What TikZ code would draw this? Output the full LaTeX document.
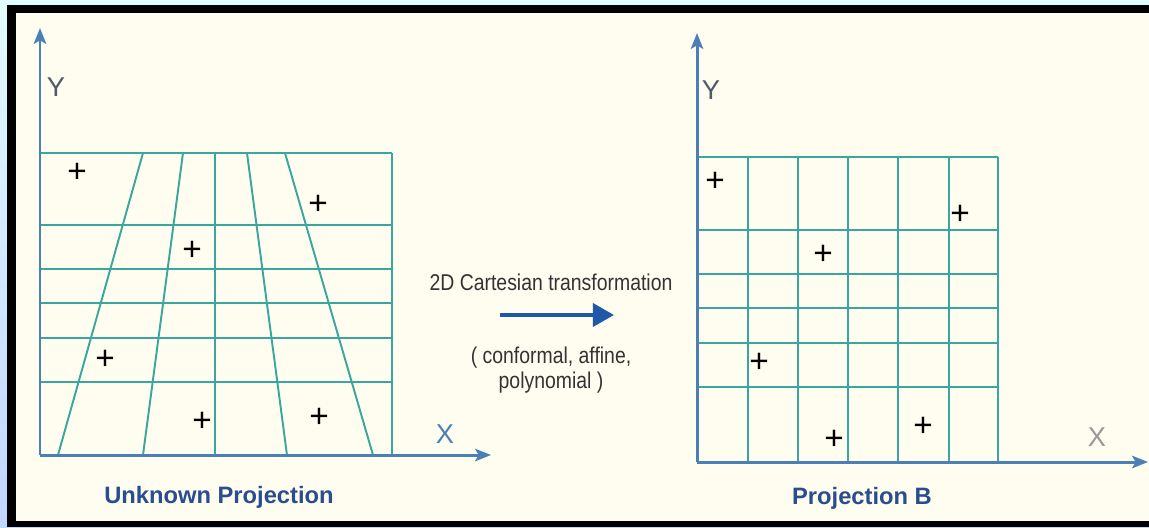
\documentclass[tikz,border=0pt]{standalone}
\usepackage{fontspec}
\setmainfont{Liberation Sans}
\newfontfamily\narrowfont[FakeStretch=0.85]{Liberation Sans}
\usetikzlibrary{arrows.meta}
\definecolor{cream}{HTML}{FFFCF0}
\definecolor{axblue}{HTML}{4A80B6}
\definecolor{gridteal}{HTML}{3AA79E}
\definecolor{ttlblue}{HTML}{2A4D8F}
\definecolor{arrblue}{HTML}{1F58A8}
\definecolor{lblgray}{HTML}{4E5A66}
\tikzset{
  >={Stealth[length=9pt,width=7pt,inset=2pt]},
  ax/.style={draw=axblue,line width=1.7pt,->},
  gl/.style={draw=gridteal,line width=1.1pt},
  pt/.style={inner sep=0pt,font=\fontsize{19}{19}\selectfont},
  lbl/.style={inner sep=0pt,font=\fontsize{15.5}{15.5}\selectfont,text=lblgray},
  ttl/.style={inner sep=0pt,font=\fontsize{13.5}{13.5}\selectfont\bfseries,text=ttlblue},
  capt/.style={inner sep=0pt,align=center,text=black!80,font=\narrowfont\fontsize{13}{14.2}\selectfont},
}
\begin{document}
\begin{tikzpicture}[x=0.2mm,y=-0.2mm]
\useasboundingbox (0,0) rectangle (1149,527);
\shade[top color=blue!8!cyan!12!white,bottom color=cyan!35!blue!25!white] (0,0) rectangle (1149,527);
\fill[black] (7,5) rectangle (1149,527); \fill[cream] (16,13) rectangle (1149,521);
% unknown projection
\foreach \y in {153,225,269,303,338,382} \draw[gl] (40,\y)--(392,\y);
\draw[gl] (392,153)--(392,455);
\draw[gl] (143,153)--(58,455); \draw[gl] (183,153)--(143,455); \draw[gl] (215,153)--(215,455);
\draw[gl] (247,153)--(287,455); \draw[gl] (285,153)--(373,455);
\coordinate (oL) at (40,455); \coordinate (yL) at (40,28); \coordinate (xL) at (491,455);
\draw[ax] (oL)--(yL); \draw[ax] (oL)--(xL);
\node[lbl] (yl) at (56,87){Y}; \node[lbl,text=axblue] (xl) at (445,434){X};
\node[pt] (p1) at (77,173){+}; \node[pt] (p2) at (318,205){+}; \node[pt] (p3) at (192,251){+};
\node[pt] (p4) at (105,360){+}; \node[pt] (p5) at (202,422){+}; \node[pt] (p6) at (319,418){+};
\node[ttl] (tl) at (219,497){Unknown Projection};
% transformation
\node[capt] (tr) at (551,282){2D Cartesian transformation};
\coordinate (a1) at (500,315); \coordinate (a2) at (614,315);
\draw[arrblue,line width=2.4pt,-{Triangle[length=12pt,width=13pt]}] (a1)--(a2);
\node[capt] (ty) at (551,370){( conformal, affine,\\ polynomial )};
% projection B
\foreach \y in {157,230,274,308,343,387} \draw[gl] (697,\y)--(998,\y);
\foreach \x in {748,798,848,898,949,998} \draw[gl] (\x,157)--(\x,462);
\coordinate (oR) at (697,462); \coordinate (yR) at (697,33); \coordinate (xR) at (1148,462);
\draw[ax] (oR)--(yR); \draw[ax] (oR)--(xR);
\node[lbl] (yr) at (711,90){Y}; \node[lbl,text=gray!80] (xr) at (1097,437){X};
\node[pt] (q1) at (715,182){+}; \node[pt] (q2) at (960,215){+}; \node[pt] (q3) at (823,255){+};
\node[pt] (q4) at (759,363){+}; \node[pt] (q5) at (834,440){+}; \node[pt] (q6) at (923,427){+};
\node[ttl] (tb) at (862,498){Projection B};
\end{tikzpicture}
\end{document}
